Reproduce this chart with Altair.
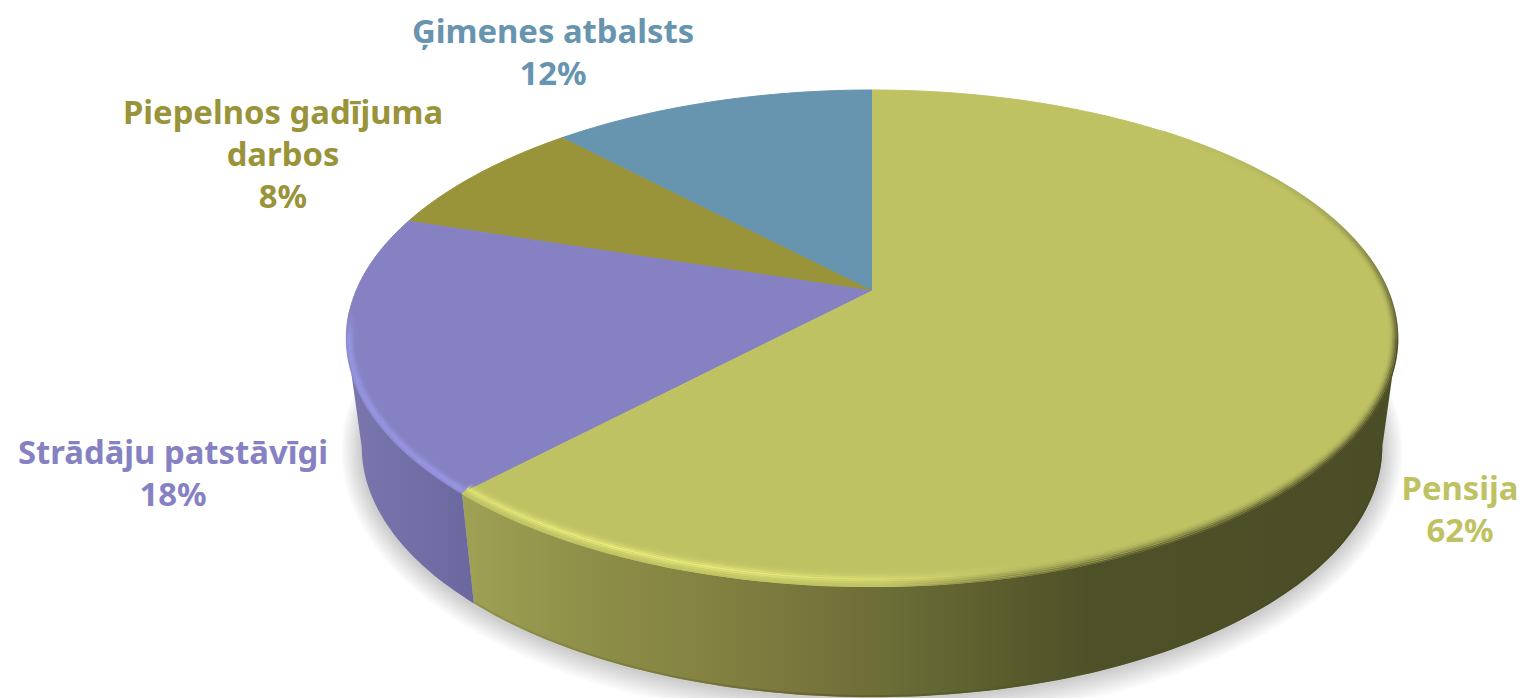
import math
import altair as alt
import pandas as pd

names = ["Ģimenes atbalsts", "Piepelnos gadījuma darbos", "Strādāju patstāvīgi", "Pensija"]
label_lines = [["Ģimenes atbalsts"], ["Piepelnos gadījuma", "darbos"], ["Strādāju patstāvīgi"], ["Pensija"]]
shares = [12, 8, 18, 62]
colors = ["#6794AE", "#99933A", "#8581C3", "#BFC263"]

# label anchors: centre x and first baseline in page pixels
label_x = [553, 283, 173, 1460]
label_y = [43, 124, 464, 500]
line_step = 42

W, H = 1510, 690
X0, Y0 = 8, 8
xs = alt.Scale(domain=[X0, X0 + W], nice=False, zero=False)
ys = alt.Scale(domain=[Y0 + H, Y0], nice=False, zero=False)
CX = 872
TOP = dict(a=516.0, b=239.2, k=0.19, y0=291.0)
LOW = dict(a=501.0, b=241.6, k=0.19, y0=399.0)


def rim(deg, g):
    t = math.radians(deg)
    u, v = -math.sin(t), -math.cos(t)
    d = 1 - g["k"] * v
    return CX + g["a"] * u / d, g["y0"] + g["b"] * v / d


def arc(d0, d1, g, n=None):
    n = n or max(2, int(abs(d1 - d0)) + 1)
    return [rim(d0 + (d1 - d0) * i / (n - 1), g) for i in range(n)]


def frame(pts):
    return pd.DataFrame({"x": [p[0] for p in pts], "y": [p[1] for p in pts], "i": range(len(pts))})


def enc(ch):
    return ch.encode(
        x=alt.X("x:Q", scale=xs, axis=None),
        y=alt.Y("y:Q", scale=ys, axis=None),
        order=alt.Order("i:Q"),
    )


def poly(pts, fill, stroke=None, **kw):
    return enc(alt.Chart(frame(pts)).mark_line(
        fill=fill, stroke=stroke or "transparent", strokeWidth=1 if stroke else 0, clip=True, **kw))


def stroke_line(pts, stroke, width, opacity=1.0):
    return enc(alt.Chart(frame(pts)).mark_line(
        stroke=stroke, strokeWidth=width, opacity=opacity, clip=True, strokeCap="butt"))


def grad(stops, vertical=False):
    return alt.Gradient(gradient="linear", x1=0, x2=0 if vertical else 1, y1=0, y2=1 if vertical else 0,
                        stops=[alt.GradientStop(offset=o, color=c) for o, c in stops])


def inset(d):
    return dict(TOP, a=TOP["a"] - d, b=TOP["b"] - d)


edges = [0]
for s in shares:
    edges.append(edges[-1] + s * 3.6)

grid = [i * 0.5 for i in range(720)]
th_r_top = max(grid, key=lambda d: rim(d, TOP)[0])
th_r_low = max(grid, key=lambda d: rim(d, LOW)[0])
th_l_top = min(grid, key=lambda d: rim(d, TOP)[0])
th_l_low = min(grid, key=lambda d: rim(d, LOW)[0])
tb = edges[3]

layers = []

# soft shadow below the disc
for e in range(2, 22, 2):
    sh = dict(a=LOW["a"] + e, b=LOW["b"] + e, k=LOW["k"], y0=LOW["y0"] + 1)
    layers.append(poly(arc(0, 360, sh, 181), "#000000", fillOpacity=0.02))

# side walls
left = rim(tb, TOP)[0]
span = CX + 525 - left
wall_g = grad([
    (0.0, "#9FA155"), ((590 - left) / span, "#8E8F48"), ((700 - left) / span, "#848342"),
    ((835 - left) / span, "#74723A"), ((860 - left) / span, "#726E38"), ((885 - left) / span, "#6B6E37"),
    ((1000 - left) / span, "#5B5D2D"), ((1090 - left) / span, "#4E5028"), (1.0, "#4B4D26"),
])
pens_wall = arc(tb, th_r_top, TOP) + arc(th_r_low, tb, LOW)
layers.append(poly(pens_wall, wall_g))
purple_wall = arc(th_l_top, tb, TOP) + arc(tb, th_l_low, LOW)
layers.append(poly(purple_wall, grad([(0, "#7A77AF"), (1, "#6A689E")])))

# darker line on the lower edge of the wall
low_in = dict(LOW, a=LOW["a"] - 1, b=LOW["b"] - 1)
layers.append(stroke_line(arc(tb, th_r_low, low_in),
                          grad([(0, "#8C8E4A"), (0.4, "#5C5B2B"), (1, "#454722")]), 2, 0.7))

# top faces
for i, c in enumerate(colors):
    pts = [(CX, TOP["y0"])] + arc(edges[i], edges[i + 1], TOP)
    layers.append(poly(pts, c, stroke=c))

PENS = colors[3]
# bright bevel on the front of the rim: strongest a few pixels inside the edge
bright = grad([(0, "#E6E878"), (0.12, "#F2F480"), (0.30, "#F0F27E"), (0.5, "#D8DA70"), (0.62, PENS), (1, PENS)])
for d, o in [(0, .3), (1.5, .45), (3, .65), (4.5, .9), (6, 1.0), (7.5, .6), (9, .3), (10.5, .14), (12, .06)]:
    layers.append(stroke_line(arc(tb, th_r_top, inset(d)), bright, 1.6, o))

# dark bevel on the right of the rim, fading towards the face colour
dark = grad([(0, PENS), (0.45, PENS), (0.55, "#8D8F48"), (0.72, "#5A5C2D"), (1, "#4B4D26")])
dark_up = grad([(0, PENS), (0.35, "#A9AB57"), (1, "#4B4D26")], vertical=True)
for d, o in [(0, 1.0), (1.5, .8), (3, .55), (4.5, .32), (6, .15), (7.5, .06)]:
    layers.append(stroke_line(arc(tb, th_r_top, inset(d)), dark, 1.6, o))
    layers.append(stroke_line(arc(th_r_top, 320, inset(d)), dark_up, 1.6, o * 0.9))

# light bevel on the purple slice
for d, o in [(0, .45), (1.5, .8), (3, .9), (4.5, .7), (6, .4), (7.5, .15)]:
    layers.append(stroke_line(arc(th_l_top - 6, tb, inset(d)),
                              grad([(0, colors[2]), (0.15, "#9A98E6"), (1, "#9A98E6")], vertical=True), 1.6, o))

# labels
rows = []
for n, lines, s, c, lx, ly in zip(names, label_lines, shares, colors, label_x, label_y):
    for j, t in enumerate(lines + [f"{s}%"]):
        rows.append({"text": t, "x": lx, "y": ly + j * line_step, "c": c})
labels = alt.Chart(pd.DataFrame(rows)).mark_text(
    font="Noto Sans", fontWeight="bold", fontSize=32.8, align="center", baseline="alphabetic"
).encode(
    x=alt.X("x:Q", scale=xs, axis=None),
    y=alt.Y("y:Q", scale=ys, axis=None),
    text="text:N",
    color=alt.Color("c:N", scale=None),
)
layers.append(labels)

chart = alt.layer(*layers).properties(
    width=W, height=H, padding=0, background="white",
    autosize=alt.AutoSizeParams(type="none"),
).configure_view(stroke=None)
chart.save("out.html", embed_options={"renderer": "svg", "actions": False})
